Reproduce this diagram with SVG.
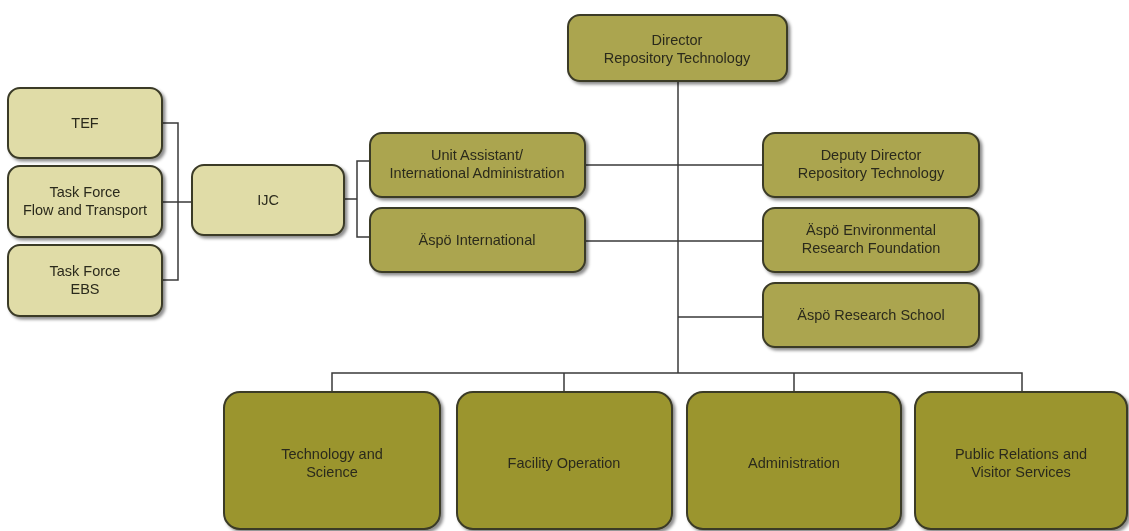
<svg xmlns="http://www.w3.org/2000/svg" width="1129" height="531" viewBox="0 0 1129 531">
<style>
.n rect{stroke:#3a3a28;stroke-width:2}
.l1{fill:#e0dca7}
.l2{fill:#aba54f}
.l3{fill:#9b952f}
text{font-family:"Liberation Sans",Arial,sans-serif;font-size:14.5px;fill:#2b2a1c;text-anchor:middle}
.c{fill:none;stroke:#3a3a3a;stroke-width:1.5}
</style>
<defs>
<filter id="sh" x="-10%" y="-10%" width="130%" height="140%">
<feDropShadow dx="2.5" dy="2.5" stdDeviation="1.5" flood-color="#000" flood-opacity="0.45"/>
</filter>
</defs>
<rect width="1129" height="531" fill="#fff"/>
<g id="connectors" class="c">
<path d="M678 82 V373"/>
<path d="M162 123 H178 V280 H162 M162 202 H192"/>
<path d="M344 199 H357 M370 161 H357 V237 H370"/>
<path d="M585 165 H763 M585 241 H763 M678 317 H763"/>
<path d="M332 392 V373 H1022 V392 M564 373 V392 M794 373 V392"/>
</g>
<g id="director" class="n" filter="url(#sh)"><rect class="l2" x="568" y="15" width="219" height="66" rx="12"/><text x="677" y="45">Director</text><text x="677" y="63">Repository Technology</text></g>
<g id="tef" class="n" filter="url(#sh)"><rect class="l1" x="8" y="88" width="154" height="70" rx="12"/><text x="85" y="128">TEF</text></g>
<g id="tf-flow" class="n" filter="url(#sh)"><rect class="l1" x="8" y="166" width="154" height="71" rx="12"/><text x="85" y="197">Task Force</text><text x="85" y="215">Flow and Transport</text></g>
<g id="tf-ebs" class="n" filter="url(#sh)"><rect class="l1" x="8" y="245" width="154" height="71" rx="12"/><text x="85" y="276">Task Force</text><text x="85" y="294">EBS</text></g>
<g id="ijc" class="n" filter="url(#sh)"><rect class="l1" x="192" y="165" width="152" height="70" rx="12"/><text x="268" y="205">IJC</text></g>
<g id="unit-assistant" class="n" filter="url(#sh)"><rect class="l2" x="370" y="133" width="215" height="64" rx="12"/><text x="477" y="160">Unit Assistant/</text><text x="477" y="178">International Administration</text></g>
<g id="aspo-international" class="n" filter="url(#sh)"><rect class="l2" x="370" y="208" width="215" height="64" rx="12"/><text x="477" y="245">Äspö International</text></g>
<g id="deputy" class="n" filter="url(#sh)"><rect class="l2" x="763" y="133" width="216" height="64" rx="12"/><text x="871" y="160">Deputy Director</text><text x="871" y="178">Repository Technology</text></g>
<g id="aspo-env" class="n" filter="url(#sh)"><rect class="l2" x="763" y="208" width="216" height="64" rx="12"/><text x="871" y="235">Äspö Environmental</text><text x="871" y="253">Research Foundation</text></g>
<g id="aspo-school" class="n" filter="url(#sh)"><rect class="l2" x="763" y="283" width="216" height="64" rx="12"/><text x="871" y="320">Äspö Research School</text></g>
<g id="tech-science" class="n" filter="url(#sh)"><rect class="l3" x="224" y="392" width="216" height="137" rx="16"/><text x="332" y="459">Technology and</text><text x="332" y="477">Science</text></g>
<g id="facility" class="n" filter="url(#sh)"><rect class="l3" x="457" y="392" width="215" height="137" rx="16"/><text x="564" y="468">Facility Operation</text></g>
<g id="administration" class="n" filter="url(#sh)"><rect class="l3" x="687" y="392" width="214" height="137" rx="16"/><text x="794" y="468">Administration</text></g>
<g id="public-relations" class="n" filter="url(#sh)"><rect class="l3" x="915" y="392" width="212" height="137" rx="16"/><text x="1021" y="459">Public Relations and</text><text x="1021" y="477">Visitor Services</text></g>
</svg>
